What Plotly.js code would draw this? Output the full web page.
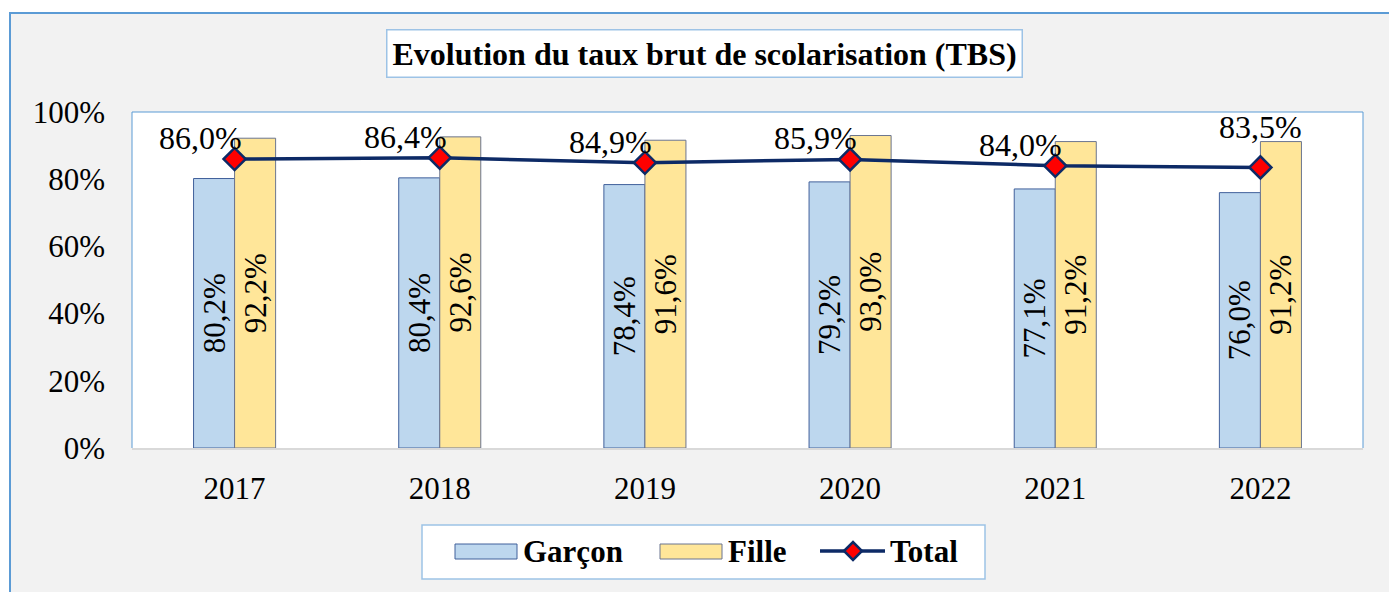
<!DOCTYPE html>
<html>
<head>
<meta charset="utf-8">
<script src="https://cdn.plot.ly/plotly-3.0.1.min.js"></script>
<style>
  html, body { margin: 0; padding: 0; background: #ffffff; width: 1389px; height: 592px; overflow: hidden; }
  #frame { position: absolute; left: 9px; top: 12px; width: 1380px; height: 580px;
           border-left: 2px solid #5b9bd5; border-top: 2px solid #5b9bd5; box-sizing: border-box;
           background: #f2f2f2; }
  #chart { width: 1378px; height: 578px; }
</style>
</head>
<body>
<div id="frame"><div id="chart"></div></div>
<script>
const years = ["2017", "2018", "2019", "2020", "2021", "2022"];
const garcon = [80.2, 80.4, 78.4, 79.2, 77.1, 76.0];
const fille = [92.2, 92.6, 91.6, 93.0, 91.2, 91.2];
const total = [86.0, 86.4, 84.9, 85.9, 84.0, 83.5];
const yTicks = [0, 20, 40, 60, 80, 100];
const seriesNames = ["Garçon", "Fille", "Total"];
const titleText = "Evolution du taux brut de scolarisation (TBS)";

const fmt = v => v.toFixed(1).replace(".", ",") + "%";
const serif = "Liberation Serif, Times New Roman, serif";
const navy = "#0d2a66";
const garconFill = "#bdd7ee", garconLine = "#41609b";
const filleFill = "#ffe699", filleLine = "#6b7590";

// page pixel -> paper coordinates (plot area spans x 132..1363, y 112..448 on the page)
const PL = 132, PW = 1231, PB = 448, PH = 336;
const px = x => (x - PL) / PW;
const py = y => (PB - y) / PH;

const traces = [
  {
    type: "bar", name: seriesNames[0], x: years, y: garcon,
    marker: { color: garconFill, line: { color: garconLine, width: 1 } },
    text: garcon.map(fmt), textposition: "inside", insidetextanchor: "middle",
    textangle: -90, constraintext: "none",
    textfont: { family: serif, size: 31, color: "#000000" },
    hoverinfo: "none", showlegend: false
  },
  {
    type: "bar", name: seriesNames[1], x: years, y: fille,
    marker: { color: filleFill, line: { color: filleLine, width: 1 } },
    text: fille.map(fmt), textposition: "inside", insidetextanchor: "middle",
    textangle: -90, constraintext: "none",
    textfont: { family: serif, size: 31, color: "#000000" },
    hoverinfo: "none", showlegend: false
  },
  {
    type: "scatter", mode: "lines+markers", name: seriesNames[2], x: years, y: total,
    line: { color: navy, width: 3.5 },
    marker: { symbol: "diamond", size: 17, color: "#ff0000", line: { color: navy, width: 2.5 } },
    cliponaxis: false, hoverinfo: "none", showlegend: false
  }
];

// total value labels (category index positions)
const totalLabels = years.map((yr, i) => {
  const last = i === years.length - 1;
  return {
    x: i, y: total[i], xref: "x", yref: "y",
    text: fmt(total[i]), showarrow: false,
    xanchor: last ? "center" : "right", yanchor: "bottom",
    xshift: last ? 0 : 9, yshift: last ? 20 : 1,
    font: { family: serif, size: 32, color: "#000000" }
  };
});

// custom legend (page pixel positions)
const legendY = 551;
const legendShapes = [
  { type: "rect", xref: "paper", yref: "paper", x0: px(422), x1: px(985), y0: py(579), y1: py(525),
    fillcolor: "#ffffff", line: { color: "#9dc3e6", width: 1.5 } },
  { type: "rect", xref: "paper", yref: "paper", x0: px(455), x1: px(517), y0: py(559), y1: py(544),
    fillcolor: garconFill, line: { color: garconLine, width: 1 } },
  { type: "rect", xref: "paper", yref: "paper", x0: px(660), x1: px(722), y0: py(559), y1: py(544),
    fillcolor: filleFill, line: { color: filleLine, width: 1 } },
  { type: "line", xref: "paper", yref: "paper", x0: px(820), x1: px(885), y0: py(legendY), y1: py(legendY),
    line: { color: navy, width: 3.5 } },
  { type: "path", xref: "paper", yref: "paper", xsizemode: "pixel", ysizemode: "pixel",
    xanchor: px(853), yanchor: py(legendY), path: "M -9 0 L 0 9 L 9 0 L 0 -9 Z",
    fillcolor: "#ff0000", line: { color: navy, width: 2.5 } }
];
const legendTexts = [
  [521, seriesNames[0]], [726, seriesNames[1]], [888, seriesNames[2]]
].map(([x, t]) => ({
  xref: "paper", yref: "paper", x: px(x), y: py(legendY), xanchor: "left", yanchor: "middle",
  text: t, showarrow: false,
  font: { family: serif, size: 31, color: "#000000", weight: "bold" }
}));

const layout = {
  width: 1378, height: 578,
  paper_bgcolor: "#f2f2f2", plot_bgcolor: "#ffffff",
  margin: { l: 121, r: 26, t: 98, b: 144 },
  font: { family: serif, size: 30, color: "#000000" },
  barmode: "group", bargap: 0.6, bargroupgap: 0,
  showlegend: false,
  xaxis: {
    type: "category", range: [-0.5, years.length - 0.5], autorange: false,
    showgrid: false, zeroline: false,
    showline: true, linecolor: "#d9d9d9", linewidth: 2,
    ticks: "", ticklabelstandoff: 12,
    tickfont: { family: serif, size: 31, color: "#000000" },
    fixedrange: true
  },
  yaxis: {
    range: [0, 100], autorange: false, tickvals: yTicks, ticktext: yTicks.map(v => v + "%"),
    showgrid: false, zeroline: false, showline: false, ticks: "",
    ticklabelstandoff: 26,
    tickfont: { family: serif, size: 31, color: "#000000" },
    fixedrange: true
  },
  shapes: [
    { type: "line", xref: "paper", yref: "paper", x0: 0, x1: 0, y0: 0, y1: 1, line: { color: "#5b9bd5", width: 1 } },
    { type: "line", xref: "paper", yref: "paper", x0: 0, x1: 1, y0: 1, y1: 1, line: { color: "#5b9bd5", width: 1 } },
    { type: "line", xref: "paper", yref: "paper", x0: 1, x1: 1, y0: 0, y1: 1, line: { color: "#5b9bd5", width: 1 } }
  ].concat(legendShapes),
  annotations: [
    {
      xref: "paper", yref: "paper", x: px(704.5), y: py(54), xanchor: "center", yanchor: "middle",
      text: titleText, showarrow: false,
      font: { family: serif, size: 32, color: "#000000", weight: "bold" },
      bgcolor: "#ffffff", bordercolor: "#9dc3e6", borderwidth: 1.5, borderpad: 5
    }
  ].concat(totalLabels, legendTexts)
};

Plotly.newPlot("chart", traces, layout, { displayModeBar: false, staticPlot: true });
</script>
</body>
</html>
